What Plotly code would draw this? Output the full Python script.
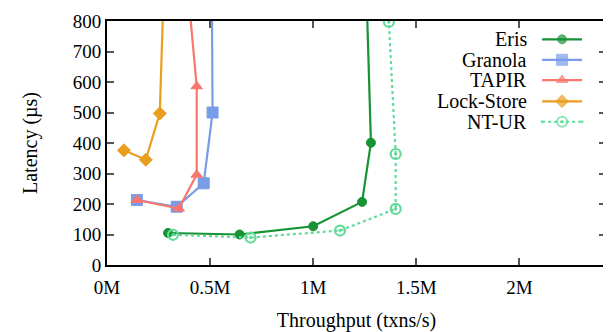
import plotly.graph_objects as go

# Data (throughput in txns/s, latency in µs); last points lie beyond the 800 µs cap
eris_x = [296000, 643000, 1000000, 1237000, 1280000, 1245000]
eris_y = [105, 100, 127, 207, 401, 1200]
granola_x = [145000, 338000, 469000, 512000, 506000]
granola_y = [213, 191, 268, 500, 1200]
tapir_x = [145000, 348000, 435000, 435000, 379000]
tapir_y = [213, 185, 296, 586, 1000]
lock_x = [82000, 188000, 256000, 284000]
lock_y = [376, 345, 497, 1100]
ntur_x = [320000, 696000, 1130000, 1400000, 1400000, 1367000]
ntur_y = [99, 90, 113, 184, 364, 797]

names = ["Eris", "Granola", "TAPIR", "Lock-Store", "NT-UR"]
colors = ["#179235", "#789ce8", "#f8766d", "#e99e1e", "#62da98"]
symbols = ["circle", "square", "triangle-up", "diamond", "circle-open-dot"]
sizes = [9, 11, 10, 10, 10]
mlw = [1, 1, 1, 1, 2.2]
dashes = ["solid", "solid", "solid", "solid", "dot"]
series = [(eris_x, eris_y), (granola_x, granola_y), (tapir_x, tapir_y),
          (lock_x, lock_y), (ntur_x, ntur_y)]

FONT = "Liberation Serif, Times New Roman, Times, serif"
fig = go.Figure()
for (xs, ys), n, c, s, sz, lw, d in zip(series, names, colors, symbols, sizes, mlw, dashes):
    fig.add_trace(go.Scatter(
        x=xs, y=ys, name=n, mode="lines+markers",
        line=dict(color=c, width=2.2, dash=d),
        marker=dict(symbol=s, size=sz, color=c, line=dict(color=c, width=lw)),
        cliponaxis=True, showlegend=False))

# Manual legend (text left of sample, gnuplot style) on an overlay axis
leg_y = [0.925, 0.841, 0.758, 0.671, 0.587]
for n, c, s, sz, lw, d, ly in zip(names, colors, symbols, sizes, mlw, dashes, leg_y):
    fig.add_trace(go.Scatter(
        x=[0.872, 0.912, 0.952], y=[ly, ly, ly], xaxis="x2", yaxis="y2",
        mode="lines+markers", showlegend=False, hoverinfo="skip",
        line=dict(color=c, width=2.2, dash=d),
        marker=dict(symbol=s, size=[0, sz, 0], color=c, line=dict(color=c, width=lw))))
    fig.add_annotation(x=0.846, y=ly, xref="x2", yref="y2", text=n, showarrow=False,
                       xanchor="right", yanchor="middle",
                       font=dict(family=FONT, size=20, color="black"))

axis_common = dict(showline=True, linecolor="black", linewidth=2, mirror="ticks",
                   ticks="inside", ticklen=7, tickwidth=1.5, tickcolor="#555",
                   showgrid=False, zeroline=False, ticklabeloverflow="allow",
                   tickfont=dict(family=FONT, size=19, color="black"))
fig.update_layout(
    width=603, height=324,
    margin=dict(l=99, r=3, t=5, b=67),
    paper_bgcolor="white", plot_bgcolor="white",
    xaxis=dict(range=[0, 2420000], tickvals=[0, 500000, 1000000, 1500000, 2000000],
               ticktext=["0M", "0.5M", "1M", "1.5M", "2M"], ticklabelstandoff=4,
               title=dict(text="Throughput (txns/s)", font=dict(family=FONT, size=20, color="black"),
                          standoff=17),
               **axis_common),
    yaxis=dict(range=[0, 800], tickvals=list(range(0, 801, 100)),
               title=dict(text="Latency (µs)", font=dict(family=FONT, size=20, color="black"),
                          standoff=30),
               **axis_common),
    xaxis2=dict(overlaying="x", range=[0, 1], visible=False, fixedrange=True),
    yaxis2=dict(overlaying="y", range=[0, 1], visible=False, fixedrange=True),
    showlegend=False,
)
fig.write_html("out.html")
